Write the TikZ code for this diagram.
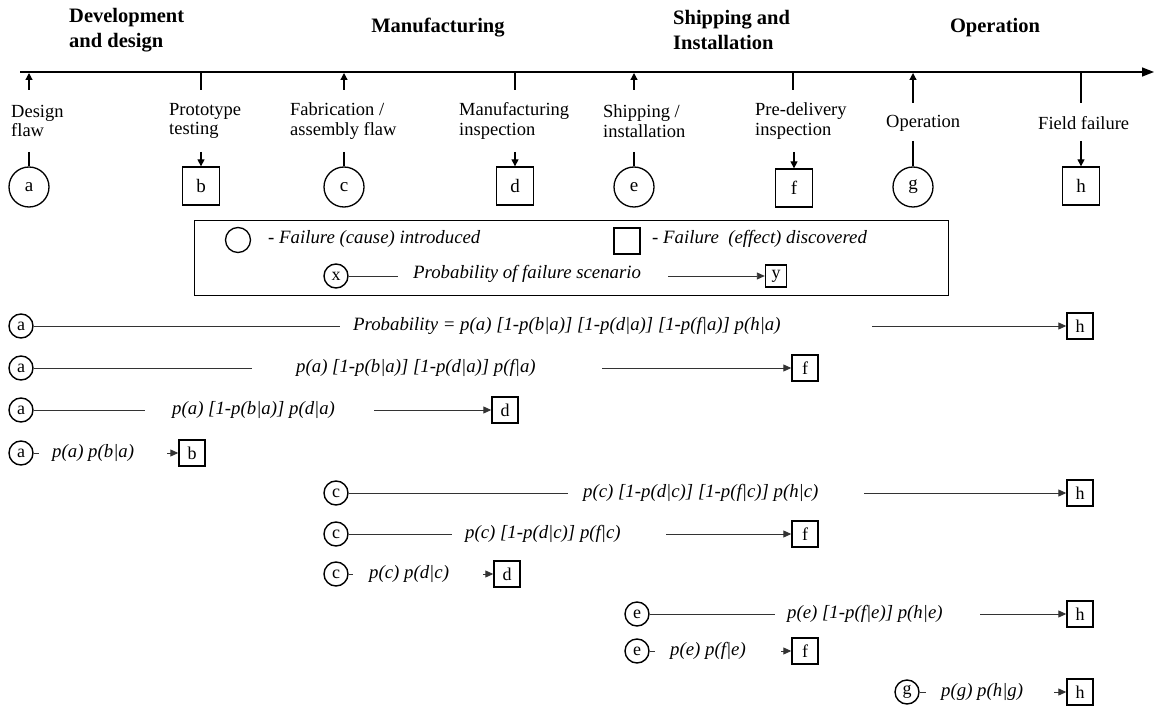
\documentclass[tikz,border=0pt]{standalone}
\usepackage{fontspec}
\setmainfont{Liberation Serif}
\usetikzlibrary{arrows.meta}

\begin{document}
\begin{tikzpicture}[x=1pt,y=-1pt,
  phase/.style={font=\fontsize{20.5}{25}\selectfont\bfseries, align=left, inner sep=0pt},
  evlabel/.style={font=\fontsize{18.5}{19.5}\selectfont, align=left, anchor=west, inner sep=0pt},
  cause/.style={draw, circle, line width=1.3pt, minimum size=40pt, inner sep=0pt, font=\fontsize{19}{20}\selectfont},
  effect/.style={draw, line width=1.3pt, minimum width=37pt, minimum height=38pt, inner sep=0pt, font=\fontsize{19}{20}\selectfont},
  scause/.style={draw, circle, line width=1.4pt, minimum size=24pt, inner sep=0pt, font=\fontsize{18}{18}\selectfont},
  seffect/.style={draw, line width=1.4pt, minimum width=26pt, minimum height=26pt, inner sep=0pt, font=\fontsize{18}{18}\selectfont},
  prob/.style={font=\fontsize{18.8}{20}\selectfont\itshape, anchor=west, inner sep=0pt},
  legtext/.style={font=\fontsize{18.8}{20}\selectfont\itshape, anchor=west, inner sep=0pt},
  stem/.style={line width=1.2pt},
  stemarrow/.style={line width=1.2pt, -{Triangle[length=7pt,width=7pt]}},
  trail/.style={line width=0.9pt, draw=black!80},
  trailarrow/.style={trail, -{Triangle[length=8pt,width=7pt]}}
]
\useasboundingbox (0,0) rectangle (1155,708);

% ---------- phases ----------
\node[phase, anchor=west] (phDev) at (69,30) {Development\\and design};
\node[phase] (phMan) at (438,28) {Manufacturing};
\node[phase, anchor=west] (phShip) at (673,30) {Shipping and\\Installation};
\node[phase] (phOp) at (995,28) {Operation};

% ---------- time axis ----------
\coordinate (axisL) at (20,72);
\coordinate (axisR) at (1154,72);
\draw[line width=1.4pt, -{Triangle[length=12pt,width=9pt]}] (axisL) -- (axisR);

% ---------- events ----------
\node[evlabel] (lbA) at (11,121) {Design\\flaw};
\node[evlabel] (lbB) at (169,121) {Prototype\\testing};
\node[evlabel] (lbC) at (290,121) {Fabrication /\\assembly flaw};
\node[evlabel] (lbD) at (459,121) {Manufacturing\\inspection};
\node[evlabel] (lbE) at (603,121) {Shipping /\\installation};
\node[evlabel] (lbF) at (755,121) {Pre-delivery\\inspection};
\node[evlabel] (lbG) at (886,123) {Operation};
\node[evlabel] (lbH) at (1038,123) {Field failure};

\node[cause]  (evA) at (29,187)  {a};
\node[effect] (evB) at (201,186) {b};
\node[cause]  (evC) at (344,187) {c};
\node[effect] (evD) at (515,186) {d};
\node[cause]  (evE) at (634,187) {e};
\node[effect] (evF) at (794,188) {f};
\node[cause]  (evG) at (913,187) {g};
\node[effect] (evH) at (1081,186) {h};

% marks on the axis
\coordinate (mA0) at (29,90);  \coordinate (mA1) at (29,73);
\coordinate (mB0) at (201,72); \coordinate (mB1) at (201,90);
\coordinate (mC0) at (344,90); \coordinate (mC1) at (344,73);
\coordinate (mD0) at (515,72); \coordinate (mD1) at (515,90);
\coordinate (mE0) at (634,90); \coordinate (mE1) at (634,73);
\coordinate (mF0) at (793,72); \coordinate (mF1) at (793,90);
\coordinate (mG0) at (913,103);\coordinate (mG1) at (913,73);
\coordinate (mH0) at (1081,72);\coordinate (mH1) at (1081,103);
\draw[stemarrow] (mA0) -- (mA1);
\draw[stem] (mB0) -- (mB1);
\draw[stemarrow] (mC0) -- (mC1);
\draw[stem] (mD0) -- (mD1);
\draw[stemarrow] (mE0) -- (mE1);
\draw[stem] (mF0) -- (mF1);
\draw[stemarrow] (mG0) -- (mG1);
\draw[stem] (mH0) -- (mH1);

% stems from labels to symbols
\coordinate (sA) at (29,152);
\coordinate (sB) at (201,152);
\coordinate (sC) at (344,152);
\coordinate (sD) at (515,152);
\coordinate (sE) at (634,152);
\coordinate (sF) at (794,152);
\coordinate (sG) at (913,141);
\coordinate (sH) at (1081,141);
\draw[stem] (sA) -- (evA);
\draw[stemarrow] (sB) -- (evB);
\draw[stem] (sC) -- (evC);
\draw[stemarrow] (sD) -- (evD);
\draw[stem] (sE) -- (evE);
\draw[stemarrow] (sF) -- (evF);
\draw[stem] (sG) -- (evG);
\draw[stemarrow] (sH) -- (evH);

% ---------- legend ----------
\node[draw, line width=1.4pt, minimum width=754pt, minimum height=75pt, anchor=north west, inner sep=0pt] (legend) at (194,220) {};
\node[draw, circle, line width=1.3pt, minimum width=25pt, minimum height=25pt, inner sep=0pt] (legC) at (238,240) {};
\node[legtext] (legCt) at (268,239) {- Failure (cause) introduced};
\node[draw, line width=1.3pt, minimum width=26pt, minimum height=26pt, inner sep=0pt] (legS) at (627,241) {};
\node[legtext] (legSt) at (652,239) {- Failure \ (effect) discovered};
\node[scause] (legX) at (336,276) {x};
\node[legtext] (legXt) at (413,274) {Probability of failure scenario};
\node[seffect, minimum width=21pt, minimum height=22pt] (legY) at (776,276) {y};
\coordinate (legX1) at (398,276);
\coordinate (legY0) at (668,276);
\draw[trail] (legX) -- (legX1);
\draw[trailarrow] (legY0) -- (legY);

% ---------- scenarios ----------
% a -> h
\node[scause] (r1s) at (21,326) {a};
\node[seffect] (r1e) at (1080,326) {h};
\node[prob] (r1t) at (353,326) {Probability = p(a) [1-p(b|a)] [1-p(d|a)] [1-p(f|a)] p(h|a)};
\coordinate (r1a) at (340,326); \coordinate (r1b) at (872,326);
\draw[trail] (r1s) -- (r1a); \draw[trailarrow] (r1b) -- (r1e);
% a -> f
\node[scause] (r2s) at (21,368) {a};
\node[seffect] (r2e) at (805,368) {f};
\node[prob] (r2t) at (296,368) {p(a) [1-p(b|a)] [1-p(d|a)] p(f|a)};
\coordinate (r2a) at (252,368); \coordinate (r2b) at (602,368);
\draw[trail] (r2s) -- (r2a); \draw[trailarrow] (r2b) -- (r2e);
% a -> d
\node[scause] (r3s) at (21,410) {a};
\node[seffect] (r3e) at (505,410) {d};
\node[prob] (r3t) at (172,410) {p(a) [1-p(b|a)] p(d|a)};
\coordinate (r3a) at (145,410); \coordinate (r3b) at (374,410);
\draw[trail] (r3s) -- (r3a); \draw[trailarrow] (r3b) -- (r3e);
% a -> b
\node[scause] (r4s) at (21,453) {a};
\node[seffect] (r4e) at (192,453) {b};
\node[prob] (r4t) at (52,453) {p(a) p(b|a)};
\coordinate (r4a) at (39,453); \coordinate (r4b) at (167,453);
\draw[trail] (r4s) -- (r4a); \draw[trailarrow] (r4b) -- (r4e);
% c -> h
\node[scause] (r5s) at (336,493) {c};
\node[seffect] (r5e) at (1080,493) {h};
\node[prob] (r5t) at (583,493) {p(c) [1-p(d|c)] [1-p(f|c)] p(h|c)};
\coordinate (r5a) at (568,493); \coordinate (r5b) at (864,493);
\draw[trail] (r5s) -- (r5a); \draw[trailarrow] (r5b) -- (r5e);
% c -> f
\node[scause] (r6s) at (336,534) {c};
\node[seffect] (r6e) at (805,534) {f};
\node[prob] (r6t) at (465,534) {p(c) [1-p(d|c)] p(f|c)};
\coordinate (r6a) at (452,534); \coordinate (r6b) at (666,534);
\draw[trail] (r6s) -- (r6a); \draw[trailarrow] (r6b) -- (r6e);
% c -> d
\node[scause] (r7s) at (336,574) {c};
\node[seffect] (r7e) at (507,574) {d};
\node[prob] (r7t) at (369,574) {p(c) p(d|c)};
\coordinate (r7a) at (353,574); \coordinate (r7b) at (483,574);
\draw[trail] (r7s) -- (r7a); \draw[trailarrow] (r7b) -- (r7e);
% e -> h
\node[scause] (r8s) at (637,614) {e};
\node[seffect] (r8e) at (1080,614) {h};
\node[prob] (r8t) at (787,614) {p(e) [1-p(f|e)] p(h|e)};
\coordinate (r8a) at (775,614); \coordinate (r8b) at (980,614);
\draw[trail] (r8s) -- (r8a); \draw[trailarrow] (r8b) -- (r8e);
% e -> f
\node[scause] (r9s) at (637,651) {e};
\node[seffect] (r9e) at (805,651) {f};
\node[prob] (r9t) at (670,651) {p(e) p(f|e)};
\coordinate (r9a) at (655,651); \coordinate (r9b) at (781,651);
\draw[trail] (r9s) -- (r9a); \draw[trailarrow] (r9b) -- (r9e);
% g -> h
\node[scause] (r10s) at (907,692) {g};
\node[seffect] (r10e) at (1080,692) {h};
\node[prob] (r10t) at (941,692) {p(g) p(h|g)};
\coordinate (r10a) at (926,692); \coordinate (r10b) at (1054,692);
\draw[trail] (r10s) -- (r10a); \draw[trailarrow] (r10b) -- (r10e);
\end{tikzpicture}
\end{document}
